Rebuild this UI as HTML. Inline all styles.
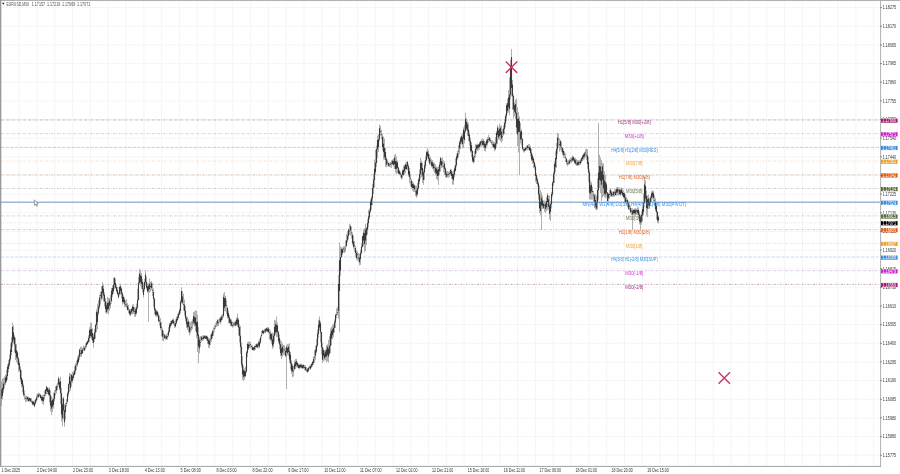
<!DOCTYPE html>
<html><head><meta charset="utf-8"><style>
html,body{margin:0;padding:0;background:#fff;width:900px;height:474px;overflow:hidden}
svg{display:block;will-change:transform}
text{font-family:"Liberation Sans",sans-serif;font-size:5px}
</style></head><body>
<svg width="900" height="474" viewBox="0 0 900 474">
<rect width="900" height="474" fill="#fff"/>
<path d="M19.20 1V466M37.00 1V466M54.80 1V466M72.60 1V466M90.40 1V466M108.20 1V466M126.00 1V466M143.80 1V466M161.60 1V466M179.40 1V466M197.20 1V466M215.00 1V466M232.80 1V466M250.60 1V466M268.40 1V466M286.20 1V466M304.00 1V466M321.80 1V466M339.60 1V466M357.40 1V466M375.20 1V466M393.00 1V466M410.80 1V466M428.60 1V466M446.40 1V466M464.20 1V466M482.00 1V466M499.80 1V466M517.60 1V466M535.40 1V466M553.20 1V466M571.00 1V466M588.80 1V466M606.60 1V466M624.40 1V466M642.20 1V466M660.00 1V466M677.80 1V466M695.60 1V466M713.40 1V466M731.20 1V466M749.00 1V466M766.80 1V466M784.60 1V466M802.40 1V466M820.20 1V466M838.00 1V466M855.80 1V466M873.60 1V466M1 7.60H880M1 26.25H880M1 44.90H880M1 63.55H880M1 82.20H880M1 100.85H880M1 119.50H880M1 138.15H880M1 156.80H880M1 175.45H880M1 194.10H880M1 212.75H880M1 231.40H880M1 250.05H880M1 268.70H880M1 287.35H880M1 306.00H880M1 324.65H880M1 343.30H880M1 361.95H880M1 380.60H880M1 399.25H880M1 417.90H880M1 436.55H880M1 455.20H880" stroke="#f0f0f0" stroke-width="0.7" fill="none"/>
<path d="M1 120.00H880" stroke="#8a6080" stroke-width="0.75" stroke-opacity="0.7" stroke-dasharray="2,1.2,0.8,1.6"/><path d="M1 133.70H880" stroke="#c088c0" stroke-width="0.75" stroke-opacity="0.7" stroke-dasharray="2,1.2,0.8,1.6"/><path d="M1 147.40H880" stroke="#90a8c4" stroke-width="0.75" stroke-opacity="0.7" stroke-dasharray="3.5,1.2"/><path d="M1 161.10H880" stroke="#e8c890" stroke-width="0.75" stroke-opacity="0.7" stroke-dasharray="2,1.2,0.8,1.6"/><path d="M1 174.80H880" stroke="#b89080" stroke-width="0.75" stroke-opacity="0.7" stroke-dasharray="2,1.2,0.8,1.6"/><path d="M1 188.50H880" stroke="#989c90" stroke-width="0.75" stroke-opacity="0.7" stroke-dasharray="2,1.2,0.8,1.6"/><path d="M1 202.20H880" stroke="#9cb8d4" stroke-width="1.5"/><path d="M1 215.90H880" stroke="#989c90" stroke-width="0.75" stroke-opacity="0.7" stroke-dasharray="2,1.2,0.8,1.6"/><path d="M1 229.60H880" stroke="#b89080" stroke-width="0.75" stroke-opacity="0.7" stroke-dasharray="2,1.2,0.8,1.6"/><path d="M1 243.30H880" stroke="#e8c890" stroke-width="0.75" stroke-opacity="0.7" stroke-dasharray="2,1.2,0.8,1.6"/><path d="M1 257.00H880" stroke="#90c0d8" stroke-width="0.75" stroke-opacity="0.7" stroke-dasharray="3.5,1.2"/><path d="M1 270.70H880" stroke="#c088c0" stroke-width="0.75" stroke-opacity="0.7" stroke-dasharray="2,1.2,0.8,1.6"/><path d="M1 284.40H880" stroke="#8a6080" stroke-width="0.75" stroke-opacity="0.7" stroke-dasharray="2,1.2,0.8,1.6"/>
<path d="M1 222.8H880" stroke="#d8d8d8" stroke-width="0.6" stroke-dasharray="1,1"/>
<path d="M1.5 381.4V405.9M2.5 378.7V399.7M3.5 378.1V392.9M4.5 376.6V388.2M5.5 374.3V385.1M6.5 370.0V382.6M7.5 364.3V379.7M8.5 360.3V372.3M9.5 354.4V367.0M10.5 343.6V361.3M11.5 337.1V355.3M12.5 322.6V346.9M13.5 325.4V343.5M14.5 335.3V352.4M15.5 337.6V360.1M16.5 343.9V362.4M17.5 351.3V364.4M18.5 356.8V371.9M19.5 360.9V371.8M20.5 366.6V381.8M21.5 370.3V387.5M22.5 378.9V392.2M23.5 383.6V396.7M24.5 390.5V399.6M25.5 395.3V402.4M26.5 395.8V401.8M27.5 396.6V401.2M28.5 396.7V401.8M29.5 397.5V401.9M30.5 398.0V402.0M31.5 398.0V403.3M32.5 400.4V405.1M33.5 401.0V405.7M34.5 400.5V407.2M35.5 398.8V404.6M36.5 394.7V401.6M37.5 393.3V399.6M38.5 392.8V397.9M39.5 392.9V396.6M40.5 393.8V398.5M41.5 395.5V401.5M42.5 395.0V403.8M43.5 394.4V404.9M44.5 390.9V399.5M45.5 389.0V396.4M46.5 385.7V394.6M47.5 386.9V394.2M48.5 387.7V395.8M49.5 387.8V402.3M50.5 390.5V411.3M51.5 396.1V415.1M52.5 397.8V411.9M53.5 392.7V408.6M54.5 390.6V401.5M55.5 386.1V395.7M56.5 384.6V393.6M57.5 382.7V390.2M58.5 376.5V386.0M59.5 378.8V390.1M60.5 376.7V404.0M61.5 387.8V421.4M62.5 398.1V426.4M63.5 396.6V419.3M64.5 404.4V426.8M65.5 402.7V419.5M66.5 399.1V406.8M67.5 391.6V402.7M68.5 383.3V396.4M69.5 373.2V392.1M70.5 373.5V390.7M71.5 373.8V386.6M72.5 371.9V383.2M73.5 371.3V379.5M74.5 366.2V375.5M75.5 363.7V374.1M76.5 360.7V369.8M77.5 356.5V366.7M78.5 354.4V363.4M79.5 348.6V359.8M80.5 346.7V356.7M81.5 346.5V356.6M82.5 348.0V354.0M83.5 345.4V351.0M84.5 346.1V351.1M85.5 343.5V349.7M86.5 341.5V347.9M87.5 340.4V344.8M88.5 335.3V343.0M89.5 327.1V341.8M90.5 322.8V337.9M91.5 322.7V339.5M92.5 328.4V342.8M93.5 334.1V347.6M94.5 328.8V341.7M95.5 323.5V338.7M96.5 309.3V332.1M97.5 303.7V329.4M98.5 300.6V315.3M99.5 294.5V308.9M100.5 291.7V304.6M101.5 286.2V300.7M102.5 282.0V299.4M103.5 284.6V301.9M104.5 292.3V306.4M105.5 298.0V312.8M106.5 302.1V314.2M107.5 296.8V313.1M108.5 297.9V314.2M109.5 298.0V310.8M110.5 295.0V308.3M111.5 287.9V303.7M112.5 285.6V296.9M113.5 277.7V294.1M114.5 277.0V288.9M115.5 278.6V288.7M116.5 285.2V292.6M117.5 287.1V295.4M118.5 292.0V298.4M119.5 286.0V295.5M120.5 283.4V294.9M121.5 287.4V298.6M122.5 292.0V304.6M123.5 295.4V303.5M124.5 297.2V307.2M125.5 300.4V307.1M126.5 299.1V307.9M127.5 303.1V310.5M128.5 304.7V313.3M129.5 308.8V315.6M130.5 309.2V316.1M131.5 307.7V314.1M132.5 304.8V314.4M133.5 304.1V314.0M134.5 307.1V316.6M135.5 307.7V317.0M136.5 303.6V314.8M137.5 288.7V309.2M138.5 276.8V300.5M139.5 268.9V283.9M140.5 270.0V286.3M141.5 272.8V288.9M142.5 278.8V292.4M143.5 283.3V297.5M144.5 278.8V291.2M145.5 270.2V285.4M146.5 276.8V289.4M147.5 283.6V292.7M148.5 283.0V292.1M149.5 278.6V292.9M150.5 281.9V291.8M151.5 280.9V289.9M152.5 283.2V296.2M153.5 288.4V307.2M154.5 297.8V314.4M155.5 308.0V316.4M156.5 309.6V317.0M157.5 310.8V316.9M158.5 312.9V322.2M159.5 315.6V325.5M160.5 318.0V330.3M161.5 321.9V336.4M162.5 328.1V340.6M163.5 331.2V341.2M164.5 333.8V338.9M165.5 334.7V339.7M166.5 334.2V339.6M167.5 332.8V339.6M168.5 327.3V336.7M169.5 323.1V332.8M170.5 321.0V328.1M171.5 319.8V325.5M172.5 319.1V323.8M173.5 318.5V324.7M174.5 321.0V328.0M175.5 319.3V327.4M176.5 316.5V324.3M177.5 313.7V321.0M178.5 311.7V318.5M179.5 308.4V315.2M180.5 299.8V313.5M181.5 287.2V303.6M182.5 291.3V304.4M183.5 293.8V310.6M184.5 299.6V315.5M185.5 306.3V320.9M186.5 315.8V327.9M187.5 316.8V330.0M188.5 319.4V332.4M189.5 321.7V335.4M190.5 322.3V333.1M191.5 320.9V330.9M192.5 319.3V329.1M193.5 312.1V325.3M194.5 311.4V326.6M195.5 310.1V331.1M196.5 311.0V338.1M197.5 314.6V352.0M198.5 326.9V363.2M199.5 336.8V353.4M200.5 336.1V346.8M201.5 336.2V341.8M202.5 335.4V341.0M203.5 335.1V340.3M204.5 335.4V339.2M205.5 335.5V339.1M206.5 335.2V340.6M207.5 335.9V344.1M208.5 337.7V347.8M209.5 338.1V348.1M210.5 334.6V345.1M211.5 332.6V341.9M212.5 329.5V338.5M213.5 327.4V335.8M214.5 325.1V331.7M215.5 323.2V328.6M216.5 320.8V326.7M217.5 319.2V326.5M218.5 319.4V326.0M219.5 317.5V322.7M220.5 316.4V324.5M221.5 314.9V321.8M222.5 314.1V320.2M223.5 293.6V317.7M224.5 292.1V311.1M225.5 295.8V311.7M226.5 300.1V313.9M227.5 306.5V318.5M228.5 310.5V323.2M229.5 315.0V323.9M230.5 318.4V326.4M231.5 319.4V326.5M232.5 321.5V327.6M233.5 322.0V327.1M234.5 321.5V326.2M235.5 320.6V326.4M236.5 317.3V325.7M237.5 313.5V327.0M238.5 317.9V335.1M239.5 324.2V342.6M240.5 326.0V353.8M241.5 342.7V367.5M242.5 356.1V379.8M243.5 365.8V381.2M244.5 368.3V379.4M245.5 366.6V377.7M246.5 350.9V373.0M247.5 342.0V357.0M248.5 341.5V350.0M249.5 341.5V347.8M250.5 341.9V348.0M251.5 344.6V349.3M252.5 345.4V350.5M253.5 346.8V350.9M254.5 345.5V350.8M255.5 344.3V349.8M256.5 343.4V348.0M257.5 343.4V348.2M258.5 340.6V348.2M259.5 339.1V348.1M260.5 335.8V343.8M261.5 331.0V338.4M262.5 329.8V334.8M263.5 330.0V334.1M264.5 328.7V333.2M265.5 328.5V333.1M266.5 327.5V332.1M267.5 327.0V332.3M268.5 327.1V333.6M269.5 328.8V339.4M270.5 330.4V341.5M271.5 332.7V343.7M272.5 332.7V348.9M273.5 333.2V347.7M274.5 319.8V341.9M275.5 320.4V334.8M276.5 316.6V337.0M277.5 322.6V336.9M278.5 330.7V343.2M279.5 334.6V349.1M280.5 340.3V356.2M281.5 341.3V359.1M282.5 343.4V356.7M283.5 345.0V354.9M284.5 345.2V354.9M285.5 347.8V357.3M286.5 344.8V357.3M287.5 344.2V355.5M288.5 344.2V355.9M289.5 343.1V363.2M290.5 351.8V369.3M291.5 360.3V373.7M292.5 364.2V377.2M293.5 365.8V376.5M294.5 360.5V370.7M295.5 359.1V369.0M296.5 358.9V367.4M297.5 362.1V367.7M298.5 363.4V368.7M299.5 364.1V369.0M300.5 363.5V368.2M301.5 363.8V368.4M302.5 364.4V369.0M303.5 364.2V368.9M304.5 365.0V370.2M305.5 365.1V370.8M306.5 367.2V372.1M307.5 368.0V372.8M308.5 367.1V371.8M309.5 365.2V369.5M310.5 364.8V369.9M311.5 363.2V368.0M312.5 360.9V366.8M313.5 356.2V364.8M314.5 350.2V362.7M315.5 346.1V360.3M316.5 339.0V353.3M317.5 329.4V347.1M318.5 319.6V338.1M319.5 316.5V330.5M320.5 321.0V342.4M321.5 332.0V354.6M322.5 342.7V363.1M323.5 348.2V361.3M324.5 350.4V360.4M325.5 349.5V360.4M326.5 345.1V362.6M327.5 344.2V361.4M328.5 339.9V362.5M329.5 336.3V355.0M330.5 328.4V353.0M331.5 326.8V345.2M332.5 324.7V339.3M333.5 324.2V337.2M334.5 319.5V332.6M335.5 313.7V327.8M336.5 308.5V318.5M337.5 306.9V315.6M338.5 275.0V318.7M339.5 242.6V331.8M340.5 246.5V275.7M341.5 247.4V257.2M342.5 247.4V255.1M343.5 246.3V252.5M344.5 245.9V253.2M345.5 240.5V252.0M346.5 233.8V246.8M347.5 231.4V242.7M348.5 228.3V239.4M349.5 223.7V235.1M350.5 224.7V235.3M351.5 227.0V238.4M352.5 232.4V245.0M353.5 235.5V248.7M354.5 240.9V251.8M355.5 246.0V256.8M356.5 250.6V259.9M357.5 251.1V260.5M358.5 253.1V261.5M359.5 253.8V265.5M360.5 249.7V264.9M361.5 243.5V254.2M362.5 235.4V247.5M363.5 229.3V246.0M364.5 228.1V252.2M365.5 224.0V250.9M366.5 226.8V245.1M367.5 219.3V234.6M368.5 209.8V227.3M369.5 208.6V219.4M370.5 199.4V213.1M371.5 196.0V209.7M372.5 183.9V205.3M373.5 173.7V194.3M374.5 159.5V187.4M375.5 149.8V174.8M376.5 145.4V166.8M377.5 135.5V158.3M378.5 134.1V152.1M379.5 124.4V141.5M380.5 125.8V135.8M381.5 129.6V139.3M382.5 134.2V150.3M383.5 136.6V159.5M384.5 138.6V159.9M385.5 147.6V166.8M386.5 156.9V167.4M387.5 159.4V165.6M388.5 162.4V167.1M389.5 162.5V167.1M390.5 161.6V167.3M391.5 160.2V167.9M392.5 159.5V165.2M393.5 158.4V166.5M394.5 154.9V169.1M395.5 153.8V172.8M396.5 156.3V174.1M397.5 160.4V173.0M398.5 166.6V174.6M399.5 170.2V175.1M400.5 171.5V177.2M401.5 173.9V179.5M402.5 169.1V178.4M403.5 165.3V176.0M404.5 164.8V174.2M405.5 163.0V173.0M406.5 161.4V169.9M407.5 161.0V170.2M408.5 164.2V176.3M409.5 168.0V183.1M410.5 174.2V185.6M411.5 179.3V187.7M412.5 181.1V190.6M413.5 182.6V191.9M414.5 184.4V191.8M415.5 185.7V196.1M416.5 185.5V197.8M417.5 182.9V196.4M418.5 178.1V189.9M419.5 169.6V183.8M420.5 157.8V178.4M421.5 160.7V177.4M422.5 163.0V183.0M423.5 169.8V184.8M424.5 161.5V180.1M425.5 156.3V168.8M426.5 150.9V161.3M427.5 148.1V158.5M428.5 150.2V161.7M429.5 154.3V165.0M430.5 156.6V164.5M431.5 159.1V167.5M432.5 160.2V168.9M433.5 162.2V170.8M434.5 163.1V173.1M435.5 164.2V175.5M436.5 166.5V179.0M437.5 166.7V180.1M438.5 166.6V184.9M439.5 161.8V174.6M440.5 157.0V171.7M441.5 158.5V168.2M442.5 157.3V167.7M443.5 160.5V172.3M444.5 161.7V175.1M445.5 167.4V177.6M446.5 171.1V177.5M447.5 170.9V177.7M448.5 171.9V177.7M449.5 171.1V176.7M450.5 168.9V174.9M451.5 169.3V178.9M452.5 171.7V184.6M453.5 170.4V184.7M454.5 166.5V177.4M455.5 158.4V171.8M456.5 154.3V167.3M457.5 151.0V160.0M458.5 145.3V157.3M459.5 140.7V154.3M460.5 136.7V149.2M461.5 134.7V144.6M462.5 133.4V148.4M463.5 127.4V148.0M464.5 124.9V143.5M465.5 112.5V133.0M466.5 117.7V130.7M467.5 120.8V135.6M468.5 122.8V141.3M469.5 131.6V145.3M470.5 137.9V152.7M471.5 142.3V157.0M472.5 150.0V162.4M473.5 155.3V163.6M474.5 151.0V162.3M475.5 143.9V157.5M476.5 144.4V152.9M477.5 143.5V150.8M478.5 143.9V150.6M479.5 141.9V149.5M480.5 140.8V146.8M481.5 138.9V146.3M482.5 138.3V146.2M483.5 138.7V148.2M484.5 140.7V151.1M485.5 142.0V151.6M486.5 139.0V146.8M487.5 137.1V145.5M488.5 135.0V142.5M489.5 137.0V142.0M490.5 138.0V143.0M491.5 140.2V144.6M492.5 140.7V146.9M493.5 141.5V148.2M494.5 141.9V151.4M495.5 137.1V150.3M496.5 131.0V146.5M497.5 125.1V144.2M498.5 127.4V139.9M499.5 123.6V139.8M500.5 125.6V141.2M501.5 125.5V142.8M502.5 129.4V140.9M503.5 125.6V135.8M504.5 119.2V134.2M505.5 114.0V127.5M506.5 103.3V121.1M507.5 98.6V113.8M508.5 90.2V112.5M509.5 77.6V115.2M510.5 60.0V99.6M511.5 61.2V96.4M512.5 80.0V110.0M513.5 94.4V118.5M514.5 102.5V116.2M515.5 99.5V119.2M516.5 98.5V133.4M517.5 107.4V146.0M518.5 111.8V152.5M519.5 116.4V141.3M520.5 123.0V143.3M521.5 129.3V145.4M522.5 138.8V150.6M523.5 147.1V152.5M524.5 147.9V152.3M525.5 147.1V151.0M526.5 145.7V150.4M527.5 145.2V150.3M528.5 144.1V149.8M529.5 144.1V151.1M530.5 145.9V156.4M531.5 148.9V161.2M532.5 154.0V163.9M533.5 157.3V167.9M534.5 161.5V169.3M535.5 164.9V181.8M536.5 173.0V184.0M537.5 177.6V186.4M538.5 181.7V199.6M539.5 185.8V213.1M540.5 190.2V215.0M541.5 192.3V211.0M542.5 195.4V209.0M543.5 200.4V209.0M544.5 200.5V211.8M545.5 201.4V213.3M546.5 197.2V211.2M547.5 193.0V209.9M548.5 195.4V209.5M549.5 195.6V219.4M550.5 201.0V220.9M551.5 191.8V208.6M552.5 181.2V196.8M553.5 171.8V185.9M554.5 161.5V183.1M555.5 151.3V172.0M556.5 142.9V168.1M557.5 133.0V154.2M558.5 133.6V146.6M559.5 138.4V151.6M560.5 139.7V150.2M561.5 141.9V152.3M562.5 147.1V155.2M563.5 149.1V157.8M564.5 151.4V158.3M565.5 153.4V162.1M566.5 157.9V164.9M567.5 160.4V166.4M568.5 159.9V165.1M569.5 158.8V164.5M570.5 158.1V163.0M571.5 157.2V162.8M572.5 155.4V162.2M573.5 156.1V161.4M574.5 157.9V164.1M575.5 157.8V164.9M576.5 159.1V165.9M577.5 160.2V166.1M578.5 160.0V165.8M579.5 160.2V164.9M580.5 159.3V164.9M581.5 157.4V163.0M582.5 154.7V161.2M583.5 153.4V160.1M584.5 151.8V159.4M585.5 149.2V157.6M586.5 148.8V159.9M587.5 149.1V168.9M588.5 156.8V181.5M589.5 169.5V199.5M590.5 180.7V199.5M591.5 182.2V199.6M592.5 186.8V199.5M593.5 190.7V202.0M594.5 193.6V208.1M595.5 194.2V209.4M596.5 195.8V210.4M597.5 178.4V209.5M598.5 163.9V199.8M599.5 154.7V188.1M600.5 157.5V193.2M601.5 160.1V201.2M602.5 162.9V197.5M603.5 163.5V196.1M604.5 171.1V197.1M605.5 175.0V198.3M606.5 182.4V196.5M607.5 192.3V204.7M608.5 192.9V201.3M609.5 190.1V198.9M610.5 188.2V196.5M611.5 190.6V197.0M612.5 191.3V197.0M613.5 190.8V196.9M614.5 189.3V196.8M615.5 189.1V195.9M616.5 187.3V195.6M617.5 187.0V195.3M618.5 187.3V195.4M619.5 187.6V195.5M620.5 188.6V195.8M621.5 187.4V194.7M622.5 188.5V196.2M623.5 190.4V198.4M624.5 192.2V202.2M625.5 194.4V203.4M626.5 196.9V203.9M627.5 199.0V207.2M628.5 201.2V210.0M629.5 204.0V210.2M630.5 205.5V213.5M631.5 208.3V215.3M632.5 209.1V215.4M633.5 209.1V215.4M634.5 208.5V215.5M635.5 208.1V216.4M636.5 208.6V214.9M637.5 207.6V214.8M638.5 207.1V218.3M639.5 211.5V224.4M640.5 214.7V229.3M641.5 211.2V224.7M642.5 206.3V221.5M643.5 193.6V215.4M644.5 177.0V203.9M645.5 180.3V201.2M646.5 190.6V215.4M647.5 195.4V217.0M648.5 194.5V209.0M649.5 197.8V208.8M650.5 196.0V204.6M651.5 191.3V202.4M652.5 190.3V199.4M653.5 191.0V202.9M654.5 195.2V206.0M655.5 198.1V211.3M656.5 203.0V219.6M657.5 211.1V223.1M658.5 215.6V223.3M148.5 288.3V321.7M286.5 345.0V389.0M519.5 121.7V175.0M541.5 208.3V230.0M598.5 123.3V195.0M632.5 208.3V230.0M511.5 49.0V70.0" stroke="#b0b0b0" stroke-width="1" fill="none"/>
<path d="M1.5 389.5V398.6M2.5 387.7V396.1M3.5 383.4V389.8M4.5 383.4V384.2M5.5 377.5V382.9M6.5 375.6V380.9M7.5 366.7V375.9M8.5 363.8V369.0M9.5 358.9V364.8M10.5 349.4V359.2M11.5 342.2V352.0M12.5 327.1V342.5M13.5 332.2V339.7M14.5 337.2V344.7M15.5 344.4V353.2M16.5 350.3V357.3M17.5 352.6V358.7M18.5 358.4V364.9M19.5 363.5V369.6M20.5 369.3V378.9M21.5 377.7V384.1M22.5 380.3V386.3M23.5 386.0V394.7M24.5 393.8V394.6M25.5 398.0V398.8M26.5 397.8V398.6M27.5 396.9V399.5M28.5 398.6V401.1M29.5 398.1V400.5M30.5 398.6V401.0M31.5 401.3V402.1M32.5 401.4V404.2M33.5 401.7V404.6M34.5 403.1V406.2M35.5 399.7V403.4M36.5 397.4V400.5M37.5 395.6V396.4M38.5 394.6V397.1M39.5 394.4V395.2M40.5 395.0V398.0M41.5 396.8V400.2M42.5 397.1V400.7M43.5 397.2V401.2M44.5 395.1V395.9M45.5 389.8V394.1M46.5 386.9V390.9M47.5 387.9V391.9M48.5 390.1V394.5M49.5 389.5V395.6M50.5 395.3V405.8M51.5 401.1V408.4M52.5 399.9V406.8M53.5 398.9V404.9M54.5 392.9V399.2M55.5 390.4V391.2M56.5 386.4V390.5M57.5 385.9V386.7M58.5 378.3V384.5M59.5 382.0V388.2M60.5 381.2V393.3M61.5 393.0V414.6M62.5 404.2V418.2M63.5 398.6V410.5M64.5 410.2V422.2M65.5 405.3V412.1M66.5 403.1V403.9M67.5 393.4V401.7M68.5 384.3V393.7M69.5 376.5V384.6M70.5 381.0V388.0M71.5 374.9V381.3M72.5 376.3V380.7M73.5 373.8V377.7M74.5 370.7V374.7M75.5 365.5V371.0M76.5 364.3V365.1M77.5 359.4V364.5M78.5 356.8V362.0M79.5 349.7V357.1M80.5 352.9V353.7M81.5 350.3V354.3M82.5 349.6V353.2M83.5 347.8V348.6M84.5 347.8V350.6M85.5 345.7V346.5M86.5 342.7V345.6M87.5 341.2V344.1M88.5 337.9V342.0M89.5 330.2V338.2M90.5 329.3V336.1M91.5 329.1V336.7M92.5 333.0V340.2M93.5 337.0V343.1M94.5 332.4V338.9M95.5 324.9V332.7M96.5 311.7V325.2M97.5 312.5V321.9M98.5 306.6V312.9M99.5 297.5V306.9M100.5 295.0V295.8M101.5 291.8V298.2M102.5 286.1V293.1M103.5 288.7V295.5M104.5 294.8V301.3M105.5 301.0V308.9M106.5 305.2V311.9M107.5 303.0V309.8M108.5 302.6V308.9M109.5 300.4V305.7M110.5 303.4V304.2M111.5 290.7V301.1M112.5 288.1V294.5M113.5 284.6V291.2M114.5 277.9V284.9M115.5 283.1V287.7M116.5 287.1V291.1M117.5 289.9V294.1M118.5 293.6V297.6M119.5 287.0V293.9M120.5 286.3V290.9M121.5 288.5V293.8M122.5 293.5V301.9M123.5 297.1V301.9M124.5 299.5V303.7M125.5 304.0V304.8M126.5 304.7V305.5M127.5 305.8V309.9M128.5 308.5V309.3M129.5 309.9V313.7M130.5 311.2V314.7M131.5 308.9V312.6M132.5 306.6V310.6M133.5 306.9V311.4M134.5 311.2V312.0M135.5 309.5V314.3M136.5 307.3V312.9M137.5 299.8V307.6M138.5 282.8V300.1M139.5 273.5V283.1M140.5 275.3V282.0M141.5 276.3V283.9M142.5 281.7V289.1M143.5 288.8V295.1M144.5 281.9V289.1M145.5 274.5V282.2M146.5 281.7V287.8M147.5 286.3V291.6M148.5 285.7V290.7M149.5 283.8V289.0M150.5 286.1V286.9M151.5 283.3V288.1M152.5 290.2V291.0M153.5 292.0V299.0M154.5 298.7V310.0M155.5 309.7V314.7M156.5 311.4V315.0M157.5 311.8V315.6M158.5 315.3V321.0M159.5 320.6V321.4M160.5 322.5V328.0M161.5 326.9V327.7M162.5 330.0V336.8M163.5 334.0V334.8M164.5 335.0V338.2M165.5 336.6V337.4M166.5 336.3V339.1M167.5 335.9V336.7M168.5 331.3V335.6M169.5 324.8V331.6M170.5 322.9V326.2M171.5 321.3V324.5M172.5 320.1V323.0M173.5 320.5V323.6M174.5 324.6V325.4M175.5 323.0V326.5M176.5 319.1V323.3M177.5 316.8V320.2M178.5 314.1V317.4M179.5 310.6V314.4M180.5 301.7V310.9M181.5 291.1V302.0M182.5 296.5V302.8M183.5 304.3V305.1M184.5 304.7V311.0M185.5 310.7V318.6M186.5 318.1V324.3M187.5 321.9V327.4M188.5 321.2V326.8M189.5 326.5V332.2M190.5 328.6V329.4M191.5 326.9V327.7M192.5 322.5V323.3M193.5 316.2V322.3M194.5 316.7V323.4M195.5 317.7V325.5M196.5 322.2V332.2M197.5 321.7V335.8M198.5 334.5V346.5M199.5 339.7V348.4M200.5 341.9V342.7M201.5 336.7V339.9M202.5 338.3V339.1M203.5 336.7V339.1M204.5 335.7V338.0M205.5 336.3V338.6M206.5 336.3V338.9M207.5 337.2V340.7M208.5 339.8V343.8M209.5 340.4V344.8M210.5 338.9V339.7M211.5 334.2V339.1M212.5 331.3V335.9M213.5 331.7V332.5M214.5 328.2V329.0M215.5 325.9V326.7M216.5 323.7V324.5M217.5 320.4V323.6M218.5 322.5V323.3M219.5 319.4V320.2M220.5 318.3V321.9M221.5 316.6V319.9M222.5 316.7V317.5M223.5 297.0V315.9M224.5 298.2V307.8M225.5 298.1V305.9M226.5 304.9V305.7M227.5 307.9V316.2M228.5 312.9V317.9M229.5 317.6V322.5M230.5 319.4V323.5M231.5 321.8V325.5M232.5 324.9V325.7M233.5 324.4V325.2M234.5 323.6V324.4M235.5 322.0V325.5M236.5 319.7V324.4M237.5 318.4V324.6M238.5 320.0V327.4M239.5 327.1V336.1M240.5 335.8V347.0M241.5 346.7V364.5M242.5 364.0V374.6M243.5 370.0V377.1M244.5 371.1V376.2M245.5 371.2V376.1M246.5 352.6V371.5M247.5 344.1V352.9M248.5 344.3V348.5M249.5 345.1V345.9M250.5 343.9V344.7M251.5 346.3V347.1M252.5 347.3V350.1M253.5 347.4V349.9M254.5 346.6V349.2M255.5 346.1V346.9M256.5 344.3V346.9M257.5 344.5V347.3M258.5 342.4V345.6M259.5 342.1V346.3M260.5 337.8V342.4M261.5 335.1V335.9M262.5 330.5V333.1M263.5 331.1V333.5M264.5 330.7V331.5M265.5 329.0V331.5M266.5 328.2V330.8M267.5 328.7V331.4M268.5 328.6V332.1M269.5 332.0V332.8M270.5 333.5V339.0M271.5 333.9V340.0M272.5 339.2V346.1M273.5 335.8V344.3M274.5 327.0V336.1M275.5 324.1V332.5M276.5 324.7V332.2M277.5 325.5V332.2M278.5 331.9V341.3M279.5 338.3V344.5M280.5 344.2V352.9M281.5 348.3V355.2M282.5 346.4V352.5M283.5 349.5V350.3M284.5 349.4V350.2M285.5 351.0V356.0M286.5 347.1V352.3M287.5 348.0V353.2M288.5 346.7V352.1M289.5 351.3V359.6M290.5 354.8V363.6M291.5 363.1V370.8M292.5 365.7V371.5M293.5 370.8V371.6M294.5 363.7V369.0M295.5 362.0V366.2M296.5 361.2V364.8M297.5 362.9V366.3M298.5 364.9V367.9M299.5 365.1V367.8M300.5 364.7V367.3M301.5 365.1V367.5M302.5 365.4V368.0M303.5 365.0V367.8M304.5 367.2V368.0M305.5 367.1V370.1M306.5 369.8V370.6M307.5 369.2V372.1M308.5 367.8V370.7M309.5 366.9V367.7M310.5 366.0V368.7M311.5 364.0V366.7M312.5 361.9V365.1M313.5 358.9V363.0M314.5 357.0V357.8M315.5 349.8V355.8M316.5 345.3V351.4M317.5 333.6V345.6M318.5 324.5V333.9M319.5 320.6V327.4M320.5 323.2V332.3M321.5 332.0V347.6M322.5 347.3V359.8M323.5 350.1V355.9M324.5 353.4V358.2M325.5 351.6V357.0M326.5 349.4V356.4M327.5 346.8V355.0M328.5 348.4V356.7M329.5 345.8V353.5M330.5 333.5V346.1M331.5 330.8V338.6M332.5 329.3V335.3M333.5 327.8V332.8M334.5 322.3V328.1M335.5 314.9V322.6M336.5 314.0V314.8M337.5 312.3V313.1M338.5 284.1V311.1M339.5 260.3V291.1M340.5 256.9V270.8M341.5 249.0V257.2M342.5 249.2V253.0M343.5 248.5V249.3M344.5 249.7V250.5M345.5 247.7V248.5M346.5 240.3V245.9M347.5 235.7V240.6M348.5 229.4V236.0M349.5 230.8V231.6M350.5 226.0V230.4M351.5 232.4V233.2M352.5 235.1V243.2M353.5 241.4V247.0M354.5 245.3V246.1M355.5 248.1V253.1M356.5 252.8V257.9M357.5 254.0V254.8M358.5 257.6V258.4M359.5 257.5V262.2M360.5 252.7V258.9M361.5 246.5V253.0M362.5 236.3V246.8M363.5 232.8V240.4M364.5 233.2V244.0M365.5 229.8V240.6M366.5 228.2V235.5M367.5 222.9V229.7M368.5 216.6V223.2M369.5 211.2V217.3M370.5 201.8V211.5M371.5 198.1V204.9M372.5 188.0V198.4M373.5 179.6V188.3M374.5 168.8V179.9M375.5 162.6V172.1M376.5 149.3V162.9M377.5 139.9V149.6M378.5 139.0V147.1M379.5 128.2V139.3M380.5 131.0V131.8M381.5 134.3V135.1M382.5 136.7V147.0M383.5 143.8V152.0M384.5 148.0V157.0M385.5 152.1V159.4M386.5 159.1V164.4M387.5 161.8V162.6M388.5 163.1V165.8M389.5 164.4V165.2M390.5 163.7V164.5M391.5 163.0V163.8M392.5 160.8V164.0M393.5 160.9V165.1M394.5 157.8V164.0M395.5 161.1V168.9M396.5 161.4V168.8M397.5 162.6V168.0M398.5 167.7V173.5M399.5 170.8V174.0M400.5 173.6V174.4M401.5 174.7V177.9M402.5 170.7V175.0M403.5 170.0V174.7M404.5 166.5V171.2M405.5 164.6V169.0M406.5 164.9V169.0M407.5 161.9V166.2M408.5 165.9V174.4M409.5 171.1V177.0M410.5 178.2V179.0M411.5 180.8V186.9M412.5 183.9V187.9M413.5 184.5V188.2M414.5 185.5V189.2M415.5 191.4V192.2M416.5 190.4V195.3M417.5 187.9V193.8M418.5 179.4V188.2M419.5 174.0V181.3M420.5 163.1V174.3M421.5 162.7V169.9M422.5 168.0V175.8M423.5 172.3V180.0M424.5 165.6V172.6M425.5 159.9V165.9M426.5 152.3V160.2M427.5 151.8V156.2M428.5 153.7V158.8M429.5 158.0V163.3M430.5 160.5V161.3M431.5 161.7V165.7M432.5 162.3V166.2M433.5 164.2V168.3M434.5 167.3V168.1M435.5 167.8V172.6M436.5 168.5V174.1M437.5 169.9V175.9M438.5 169.2V175.7M439.5 164.5V171.3M440.5 158.1V164.8M441.5 161.0V165.7M442.5 162.6V163.4M443.5 165.9V166.7M444.5 163.8V168.9M445.5 168.6V174.4M446.5 173.6V176.8M447.5 174.4V175.2M448.5 174.0V174.8M449.5 173.1V173.9M450.5 170.0V173.6M451.5 171.4V176.0M452.5 173.9V179.1M453.5 174.1V180.2M454.5 168.5V174.8M455.5 165.0V170.8M456.5 156.4V165.3M457.5 152.9V157.9M458.5 150.6V151.4M459.5 142.5V148.6M460.5 138.3V143.5M461.5 136.3V141.8M462.5 137.2V144.1M463.5 129.7V138.5M464.5 130.8V139.9M465.5 118.9V131.1M466.5 122.1V128.7M467.5 124.5V130.8M468.5 129.4V136.1M469.5 134.4V141.2M470.5 140.9V150.8M471.5 145.2V151.4M472.5 151.1V160.7M473.5 157.3V161.9M474.5 156.0V156.8M475.5 149.0V154.0M476.5 145.3V149.3M477.5 145.2V148.6M478.5 144.5V147.7M479.5 143.6V146.9M480.5 141.3V144.8M481.5 141.8V142.6M482.5 141.1V144.8M483.5 141.0V145.1M484.5 143.5V147.6M485.5 144.1V148.2M486.5 140.8V144.7M487.5 139.5V143.3M488.5 138.9V139.7M489.5 137.5V140.5M490.5 140.0V140.8M491.5 142.2V143.0M492.5 144.5V145.3M493.5 143.8V147.3M494.5 144.2V148.2M495.5 143.3V149.0M496.5 132.8V143.6M497.5 127.6V135.1M498.5 130.6V137.6M499.5 129.1V136.2M500.5 127.7V134.9M501.5 131.8V138.4M502.5 135.9V136.7M503.5 128.6V134.1M504.5 123.1V128.9M505.5 115.9V123.4M506.5 105.2V116.2M507.5 103.3V111.0M508.5 97.5V107.2M509.5 94.4V109.1M510.5 65.5V94.7M511.5 71.5V85.7M512.5 84.6V96.3M513.5 96.0V109.3M514.5 105.2V111.8M515.5 104.0V113.5M516.5 112.7V127.6M517.5 118.7V134.5M518.5 118.5V131.9M519.5 121.1V131.8M520.5 131.4V139.4M521.5 131.3V139.1M522.5 138.8V149.0M523.5 149.4V150.2M524.5 148.9V151.1M525.5 147.7V149.9M526.5 147.7V148.5M527.5 145.6V148.1M528.5 147.2V148.0M529.5 146.9V150.2M530.5 148.1V153.1M531.5 152.8V159.4M532.5 155.7V160.5M533.5 158.5V162.7M534.5 162.4V167.0M535.5 166.7V176.0M536.5 174.9V180.5M537.5 179.6V183.7M538.5 183.4V194.5M539.5 194.2V208.3M540.5 201.8V211.1M541.5 197.8V205.3M542.5 200.4V206.1M543.5 203.6V207.8M544.5 205.2V206.0M545.5 203.6V208.7M546.5 200.9V207.2M547.5 195.2V201.9M548.5 199.3V206.7M549.5 205.6V213.8M550.5 204.0V212.1M551.5 194.1V204.3M552.5 182.8V194.4M553.5 173.8V183.1M554.5 163.9V174.1M555.5 158.0V167.1M556.5 149.0V159.2M557.5 137.5V149.3M558.5 138.8V139.6M559.5 144.3V145.1M560.5 141.0V146.5M561.5 146.9V147.7M562.5 148.1V152.6M563.5 150.9V154.9M564.5 153.8V154.6M565.5 157.2V158.0M566.5 158.8V162.2M567.5 163.2V164.0M568.5 162.5V163.3M569.5 160.8V163.6M570.5 160.2V161.0M571.5 159.6V160.4M572.5 157.5V160.4M573.5 157.2V160.3M574.5 159.3V162.5M575.5 160.3V163.6M576.5 163.5V164.3M577.5 162.3V165.1M578.5 162.1V164.7M579.5 162.0V162.8M580.5 160.7V163.6M581.5 158.0V161.1M582.5 155.9V159.1M583.5 154.4V157.6M584.5 153.3V156.5M585.5 152.4V153.2M586.5 154.8V155.6M587.5 155.6V164.1M588.5 162.2V172.5M589.5 172.2V192.8M590.5 185.5V193.8M591.5 184.8V191.5M592.5 191.1V191.9M593.5 194.7V195.5M594.5 195.4V201.6M595.5 200.0V206.4M596.5 202.2V208.4M597.5 190.0V202.5M598.5 172.6V190.3M599.5 165.9V180.1M600.5 166.6V180.8M601.5 171.2V184.8M602.5 166.6V180.2M603.5 174.6V188.6M604.5 180.5V193.8M605.5 182.2V194.2M606.5 184.4V192.8M607.5 192.5V201.0M608.5 193.9V198.3M609.5 193.9V194.7M610.5 189.8V193.7M611.5 192.4V196.0M612.5 194.3V195.1M613.5 192.1V195.2M614.5 192.5V193.3M615.5 191.6V195.1M616.5 189.2V192.8M617.5 188.8V192.5M618.5 190.3V191.1M619.5 189.7V194.0M620.5 190.3V194.6M621.5 189.4V193.1M622.5 191.7V195.2M623.5 193.0V197.0M624.5 193.6V198.0M625.5 197.7V202.3M626.5 200.4V201.2M627.5 200.0V203.6M628.5 203.3V208.7M629.5 206.2V207.0M630.5 208.1V212.2M631.5 210.7V211.5M632.5 210.8V214.2M633.5 209.9V213.3M634.5 209.8V213.3M635.5 209.9V213.4M636.5 210.6V211.4M637.5 209.7V213.1M638.5 210.1V214.7M639.5 214.4V221.3M640.5 216.6V222.7M641.5 214.8V221.5M642.5 209.1V215.4M643.5 202.8V212.0M644.5 184.5V203.1M645.5 186.0V198.4M646.5 195.9V208.3M647.5 199.3V208.4M648.5 198.5V205.2M649.5 201.8V206.5M650.5 197.7V202.3M651.5 193.4V198.0M652.5 192.4V196.6M653.5 193.2V198.0M654.5 200.0V200.8M655.5 202.6V209.4M656.5 206.1V212.3M657.5 212.0V220.5M658.5 217.1V220.4M511.5 57.0V88.0" stroke="#3a3a3a" stroke-width="1.1" fill="none"/>
<g><text x="617.80" y="124.20" fill="#a0307a" textLength="33" lengthAdjust="spacingAndGlyphs">H1[5/8] M30[+2/8]</text><text x="624.80" y="137.90" fill="#d030d0" textLength="19" lengthAdjust="spacingAndGlyphs">M30[+1/8]</text><text x="611.05" y="151.60" fill="#3a8ee0" textLength="46.5" lengthAdjust="spacingAndGlyphs">H4[5/8] H1[2/8] M30[RES]</text><text x="626.05" y="165.30" fill="#f0a030" textLength="16.5" lengthAdjust="spacingAndGlyphs">M30[7/8]</text><text x="618.80" y="179.00" fill="#e06020" textLength="31" lengthAdjust="spacingAndGlyphs">H1[7/8] M30[6/8]</text><text x="626.05" y="192.70" fill="#607048" textLength="16.5" lengthAdjust="spacingAndGlyphs">M30[5/8]</text><text x="582.55" y="206.40" fill="#3a8ee0" textLength="103.5" lengthAdjust="spacingAndGlyphs">MN[4/8] W1[4/8] D1[3/8] H4[4/8] H1[4/8] M30[PIVOT]</text><text x="626.05" y="220.10" fill="#607048" textLength="16.5" lengthAdjust="spacingAndGlyphs">M30[3/8]</text><text x="618.80" y="233.80" fill="#e06020" textLength="31" lengthAdjust="spacingAndGlyphs">H1[1/8] M30[2/8]</text><text x="626.05" y="247.50" fill="#f0a030" textLength="16.5" lengthAdjust="spacingAndGlyphs">M30[1/8]</text><text x="611.05" y="261.20" fill="#3a8ee0" textLength="46.5" lengthAdjust="spacingAndGlyphs">H4[3/8] H1[-2/8] M30[SUP]</text><text x="625.30" y="274.90" fill="#d030d0" textLength="18" lengthAdjust="spacingAndGlyphs">M30[-1/8]</text><text x="625.30" y="288.60" fill="#a0307a" textLength="18" lengthAdjust="spacingAndGlyphs">M30[-2/8]</text></g>
<g fill="#c8406a" stroke="#c83c6a" stroke-width="1.5" stroke-linecap="butt">
<path d="M505.8 61.5L517.2 72.9M517.2 61.5L505.8 72.9"/>
<path d="M718.5 372.3L730 383.8M730 372.3L718.5 383.8"/>
</g>
<path d="M34.3 199.8v5.6l1.3-1.2 1 2.2 0.8-0.4-1-2.1h1.8z" fill="#fff" stroke="#444" stroke-width="0.5"/>
<path d="M0 0.5H900" stroke="#b0b0b0" stroke-width="1"/>
<path d="M0.65 0V466.5" stroke="#989898" stroke-width="1.3"/>
<path d="M0 466.4H881" stroke="#a0a0a0" stroke-width="1"/>
<path d="M880.6 0V466.9" stroke="#a8a8a8" stroke-width="0.9"/>
<g fill="#333"><path d="M880 7.60h2" stroke="#777" stroke-width="0.8"/><text x="882.8" y="9.40" textLength="13.2" lengthAdjust="spacingAndGlyphs">1.18275</text><path d="M880 26.25h2" stroke="#777" stroke-width="0.8"/><text x="882.8" y="28.05" textLength="13.2" lengthAdjust="spacingAndGlyphs">1.18170</text><path d="M880 44.90h2" stroke="#777" stroke-width="0.8"/><text x="882.8" y="46.70" textLength="13.2" lengthAdjust="spacingAndGlyphs">1.18065</text><path d="M880 63.55h2" stroke="#777" stroke-width="0.8"/><text x="882.8" y="65.35" textLength="13.2" lengthAdjust="spacingAndGlyphs">1.17965</text><path d="M880 82.20h2" stroke="#777" stroke-width="0.8"/><text x="882.8" y="84.00" textLength="13.2" lengthAdjust="spacingAndGlyphs">1.17860</text><path d="M880 100.85h2" stroke="#777" stroke-width="0.8"/><text x="882.8" y="102.65" textLength="13.2" lengthAdjust="spacingAndGlyphs">1.17755</text><path d="M880 119.50h2" stroke="#777" stroke-width="0.8"/><text x="882.8" y="121.30" textLength="13.2" lengthAdjust="spacingAndGlyphs">1.17650</text><path d="M880 138.15h2" stroke="#777" stroke-width="0.8"/><text x="882.8" y="139.95" textLength="13.2" lengthAdjust="spacingAndGlyphs">1.17540</text><path d="M880 156.80h2" stroke="#777" stroke-width="0.8"/><text x="882.8" y="158.60" textLength="13.2" lengthAdjust="spacingAndGlyphs">1.17440</text><path d="M880 175.45h2" stroke="#777" stroke-width="0.8"/><text x="882.8" y="177.25" textLength="13.2" lengthAdjust="spacingAndGlyphs">1.17335</text><path d="M880 194.10h2" stroke="#777" stroke-width="0.8"/><text x="882.8" y="195.90" textLength="13.2" lengthAdjust="spacingAndGlyphs">1.17225</text><path d="M880 212.75h2" stroke="#777" stroke-width="0.8"/><text x="882.8" y="214.55" textLength="13.2" lengthAdjust="spacingAndGlyphs">1.17130</text><path d="M880 231.40h2" stroke="#777" stroke-width="0.8"/><text x="882.8" y="233.20" textLength="13.2" lengthAdjust="spacingAndGlyphs">1.17020</text><path d="M880 250.05h2" stroke="#777" stroke-width="0.8"/><text x="882.8" y="251.85" textLength="13.2" lengthAdjust="spacingAndGlyphs">1.16920</text><path d="M880 268.70h2" stroke="#777" stroke-width="0.8"/><text x="882.8" y="270.50" textLength="13.2" lengthAdjust="spacingAndGlyphs">1.16815</text><path d="M880 287.35h2" stroke="#777" stroke-width="0.8"/><text x="882.8" y="289.15" textLength="13.2" lengthAdjust="spacingAndGlyphs">1.16710</text><path d="M880 306.00h2" stroke="#777" stroke-width="0.8"/><text x="882.8" y="307.80" textLength="13.2" lengthAdjust="spacingAndGlyphs">1.16610</text><path d="M880 324.65h2" stroke="#777" stroke-width="0.8"/><text x="882.8" y="326.45" textLength="13.2" lengthAdjust="spacingAndGlyphs">1.16505</text><path d="M880 343.30h2" stroke="#777" stroke-width="0.8"/><text x="882.8" y="345.10" textLength="13.2" lengthAdjust="spacingAndGlyphs">1.16400</text><path d="M880 361.95h2" stroke="#777" stroke-width="0.8"/><text x="882.8" y="363.75" textLength="13.2" lengthAdjust="spacingAndGlyphs">1.16295</text><path d="M880 380.60h2" stroke="#777" stroke-width="0.8"/><text x="882.8" y="382.40" textLength="13.2" lengthAdjust="spacingAndGlyphs">1.16190</text><path d="M880 399.25h2" stroke="#777" stroke-width="0.8"/><text x="882.8" y="401.05" textLength="13.2" lengthAdjust="spacingAndGlyphs">1.16085</text><path d="M880 417.90h2" stroke="#777" stroke-width="0.8"/><text x="882.8" y="419.70" textLength="13.2" lengthAdjust="spacingAndGlyphs">1.15980</text><path d="M880 436.55h2" stroke="#777" stroke-width="0.8"/><text x="882.8" y="438.35" textLength="13.2" lengthAdjust="spacingAndGlyphs">1.15880</text><path d="M880 455.20h2" stroke="#777" stroke-width="0.8"/><text x="882.8" y="457.00" textLength="13.2" lengthAdjust="spacingAndGlyphs">1.15775</text><text x="1.50" y="472.2" textLength="18.5" lengthAdjust="spacingAndGlyphs">1 Dec 2025</text><text x="37.00" y="472.2" textLength="20.2" lengthAdjust="spacingAndGlyphs">2 Dec 04:00</text><text x="72.90" y="472.2" textLength="20.2" lengthAdjust="spacingAndGlyphs">2 Dec 23:00</text><text x="108.80" y="472.2" textLength="20.2" lengthAdjust="spacingAndGlyphs">3 Dec 18:00</text><text x="144.70" y="472.2" textLength="20.2" lengthAdjust="spacingAndGlyphs">4 Dec 13:00</text><text x="180.60" y="472.2" textLength="20.2" lengthAdjust="spacingAndGlyphs">5 Dec 08:00</text><text x="216.50" y="472.2" textLength="20.2" lengthAdjust="spacingAndGlyphs">8 Dec 03:00</text><text x="252.40" y="472.2" textLength="20.2" lengthAdjust="spacingAndGlyphs">8 Dec 22:00</text><text x="288.30" y="472.2" textLength="20.2" lengthAdjust="spacingAndGlyphs">9 Dec 17:00</text><text x="324.20" y="472.2" textLength="21.4" lengthAdjust="spacingAndGlyphs">10 Dec 12:00</text><text x="360.10" y="472.2" textLength="21.4" lengthAdjust="spacingAndGlyphs">11 Dec 07:00</text><text x="396.00" y="472.2" textLength="21.4" lengthAdjust="spacingAndGlyphs">12 Dec 02:00</text><text x="431.90" y="472.2" textLength="21.4" lengthAdjust="spacingAndGlyphs">12 Dec 21:00</text><text x="467.80" y="472.2" textLength="21.4" lengthAdjust="spacingAndGlyphs">15 Dec 16:00</text><text x="503.70" y="472.2" textLength="21.4" lengthAdjust="spacingAndGlyphs">16 Dec 11:00</text><text x="539.60" y="472.2" textLength="21.4" lengthAdjust="spacingAndGlyphs">17 Dec 06:00</text><text x="575.50" y="472.2" textLength="21.4" lengthAdjust="spacingAndGlyphs">18 Dec 01:00</text><text x="611.40" y="472.2" textLength="21.4" lengthAdjust="spacingAndGlyphs">18 Dec 20:00</text><text x="647.30" y="472.2" textLength="21.4" lengthAdjust="spacingAndGlyphs">19 Dec 15:00</text></g>
<rect x="881" y="118.50" width="16.6" height="4.2" fill="#a0206e"/><text x="882.6" y="122.30" fill="#fff" textLength="13.4" lengthAdjust="spacingAndGlyphs">1.17680</text><rect x="881" y="132.20" width="16.6" height="4.2" fill="#d020d0"/><text x="882.6" y="136.00" fill="#fff" textLength="13.4" lengthAdjust="spacingAndGlyphs">1.17571</text><rect x="881" y="145.90" width="16.6" height="4.2" fill="#3a8ee0"/><text x="882.6" y="149.70" fill="#fff" textLength="13.4" lengthAdjust="spacingAndGlyphs">1.17461</text><rect x="881" y="159.60" width="16.6" height="4.2" fill="#f0a020"/><text x="882.6" y="163.40" fill="#fff" textLength="13.4" lengthAdjust="spacingAndGlyphs">1.17352</text><rect x="881" y="173.30" width="16.6" height="4.2" fill="#e05a10"/><text x="882.6" y="177.10" fill="#fff" textLength="13.4" lengthAdjust="spacingAndGlyphs">1.17242</text><rect x="881" y="187.00" width="16.6" height="4.2" fill="#5a6e40"/><text x="882.6" y="190.80" fill="#fff" textLength="13.4" lengthAdjust="spacingAndGlyphs">1.17134</text><rect x="881" y="200.70" width="16.6" height="4.2" fill="#3a8ee0"/><text x="882.6" y="204.50" fill="#fff" textLength="13.4" lengthAdjust="spacingAndGlyphs">1.17024</text><rect x="881" y="214.40" width="16.6" height="4.2" fill="#5a6e40"/><text x="882.6" y="218.20" fill="#fff" textLength="13.4" lengthAdjust="spacingAndGlyphs">1.16915</text><rect x="881" y="228.10" width="16.6" height="4.2" fill="#e05a10"/><text x="882.6" y="231.90" fill="#fff" textLength="13.4" lengthAdjust="spacingAndGlyphs">1.16805</text><rect x="881" y="241.80" width="16.6" height="4.2" fill="#f0a020"/><text x="882.6" y="245.60" fill="#fff" textLength="13.4" lengthAdjust="spacingAndGlyphs">1.16697</text><rect x="881" y="255.50" width="16.6" height="4.2" fill="#3a8ee0"/><text x="882.6" y="259.30" fill="#fff" textLength="13.4" lengthAdjust="spacingAndGlyphs">1.16588</text><rect x="881" y="269.20" width="16.6" height="4.2" fill="#d020d0"/><text x="882.6" y="273.00" fill="#fff" textLength="13.4" lengthAdjust="spacingAndGlyphs">1.16479</text><rect x="881" y="282.90" width="16.6" height="4.2" fill="#a0206e"/><text x="882.6" y="286.70" fill="#fff" textLength="13.4" lengthAdjust="spacingAndGlyphs">1.16369</text><rect x="881" y="221.15" width="16.6" height="4.2" fill="#000000"/><text x="882.6" y="224.95" fill="#fff" textLength="13.4" lengthAdjust="spacingAndGlyphs">1.17071</text>
<path d="M2 2.8h2.6l-1.3 2z" fill="#222"/>
<text x="6.5" y="5.9" fill="#505050" textLength="22.5" lengthAdjust="spacingAndGlyphs">EURUSD,M30</text><text x="31.8" y="5.9" fill="#505050" textLength="13.2" lengthAdjust="spacingAndGlyphs">1.17157</text><text x="47" y="5.9" fill="#505050" textLength="13.2" lengthAdjust="spacingAndGlyphs">1.17219</text><text x="62" y="5.9" fill="#505050" textLength="13.2" lengthAdjust="spacingAndGlyphs">1.17069</text><text x="77" y="5.9" fill="#505050" textLength="13.2" lengthAdjust="spacingAndGlyphs">1.17071</text>
</svg>
</body></html>
